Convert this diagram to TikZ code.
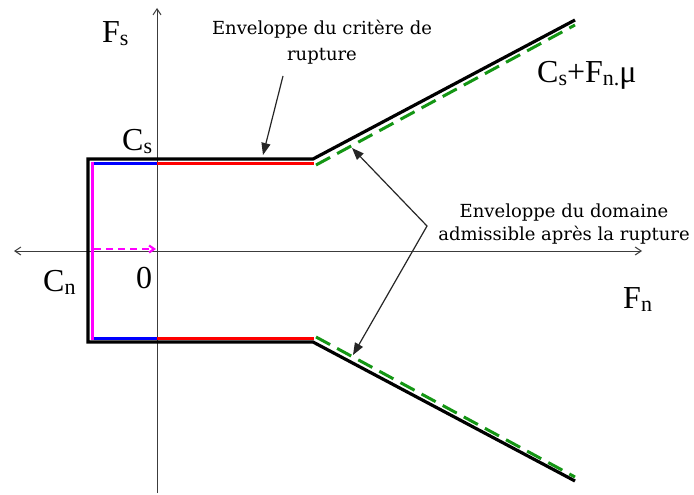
\documentclass[tikz,border=0pt]{standalone}
\usepackage{fontspec}
\setmainfont{Liberation Serif}
\newfontfamily\notefont{DejaVu Serif}
\usetikzlibrary{arrows.meta}
\definecolor{envgreen}{RGB}{20,150,20}
\definecolor{axisgray}{RGB}{60,60,60}
\definecolor{envred}{RGB}{255,0,0}
\definecolor{envblue}{RGB}{0,0,255}
\definecolor{envmag}{RGB}{255,0,255}
\newcommand{\lsub}[1]{\raisebox{-3pt}{\fontsize{22}{22}\selectfont #1}}
\begin{document}
\begin{tikzpicture}[x=1pt,y=-1pt,
  axisline/.style={draw=axisgray, line width=1pt},
  axishead/.style={-{Straight Barb[length=6pt,width=8pt]}},
  envblack/.style={draw=black, line width=3.2pt, line join=miter},
  envpart/.style={line width=3pt},
  greendash/.style={draw=envgreen, line width=3pt, dash pattern=on 16pt off 8pt},
  magdash/.style={draw=envmag, line width=2.2pt, dash pattern=on 7pt off 5pt, -{Straight Barb[length=5pt,width=7pt]}},
  pointer/.style={draw=black!85, line width=1.2pt},
  ptip/.style={Triangle[length=12pt,width=9pt]},
  mathlab/.style={inner sep=0pt, font=\fontsize{32}{32}\selectfont},
  note/.style={inner sep=0pt, font=\notefont\fontsize{18}{22}\selectfont}
]
\useasboundingbox (0,0) rectangle (694,495);
\fill[white] (0,0) rectangle (694,495);

% axes
\coordinate (xL) at (14,251);
\coordinate (xR) at (642,251);
\coordinate (yB) at (157,493);
\coordinate (yT) at (157,8);
\draw[axisline, {Straight Barb[length=6pt,width=8pt]}-{Straight Barb[length=6pt,width=8pt]}] (xL) -- (xR);
\draw[axisline, axishead] (yB) -- (yT);

% envelope corners
\coordinate (TR) at (575,20);
\coordinate (TV) at (313,159);
\coordinate (TL) at (88,159);
\coordinate (BL) at (88,342);
\coordinate (BV) at (313,342);
\coordinate (BR) at (575,481);

% coloured parts
\draw[envpart, draw=envred] (157,163) -- (314,163);
\draw[envpart, draw=envred] (157,338) -- (314,338);
\draw[envpart, draw=envblue] (92,163) -- (157,163);
\draw[envpart, draw=envblue] (92,338) -- (157,338);
\draw[envpart, draw=envmag] (92,161.5) -- (92,339.5);
\draw[magdash] (94,249) -- (156,249);

% green dashed
\draw[greendash] (316,165) -- (575,25);
\draw[greendash] (316,337) -- (575,477);

% black envelope
\draw[envblack] (TR) -- (TV) -- (TL) -- (BL) -- (BV) -- (BR);

% labels
\node[mathlab, anchor=base west] (Fs) at (102,43) {F\lsub{s}};
\node[mathlab, anchor=base west] (Cs) at (122,150) {C\lsub{s}};
\node[mathlab, anchor=base west] (Cn) at (43,291) {C\lsub{n}};
\node[mathlab, anchor=base west] (zero) at (136,288) {0};
\node[mathlab, anchor=base west] (Fn) at (623,308) {F\lsub{n}};
\node[mathlab, anchor=base west] (law) at (537,82) {C\lsub{s}+F\lsub{n.}μ};

\node[note, anchor=base] (crit1) at (322,35) {Enveloppe du critère de};
\node[note, anchor=base] (crit2) at (322,61) {rupture};
\node[note, anchor=base] (dom1) at (564,217) {Enveloppe du domaine};
\node[note, anchor=base] (dom2) at (564,240) {admissible après la rupture};

% pointers
\coordinate (critFrom) at (283,76);
\coordinate (critTip) at (263,155);
\draw[pointer, -{Triangle[length=12pt,width=9pt]}] (critFrom) -- (critTip);
\coordinate (domV) at (427,226);
\coordinate (domTipU) at (352,148);
\coordinate (domTipL) at (353,355);
\draw[pointer, line join=miter, {Triangle[length=12pt,width=9pt]}-{Triangle[length=12pt,width=9pt]}] (domTipU) -- (domV) -- (domTipL);
\end{tikzpicture}
\end{document}
